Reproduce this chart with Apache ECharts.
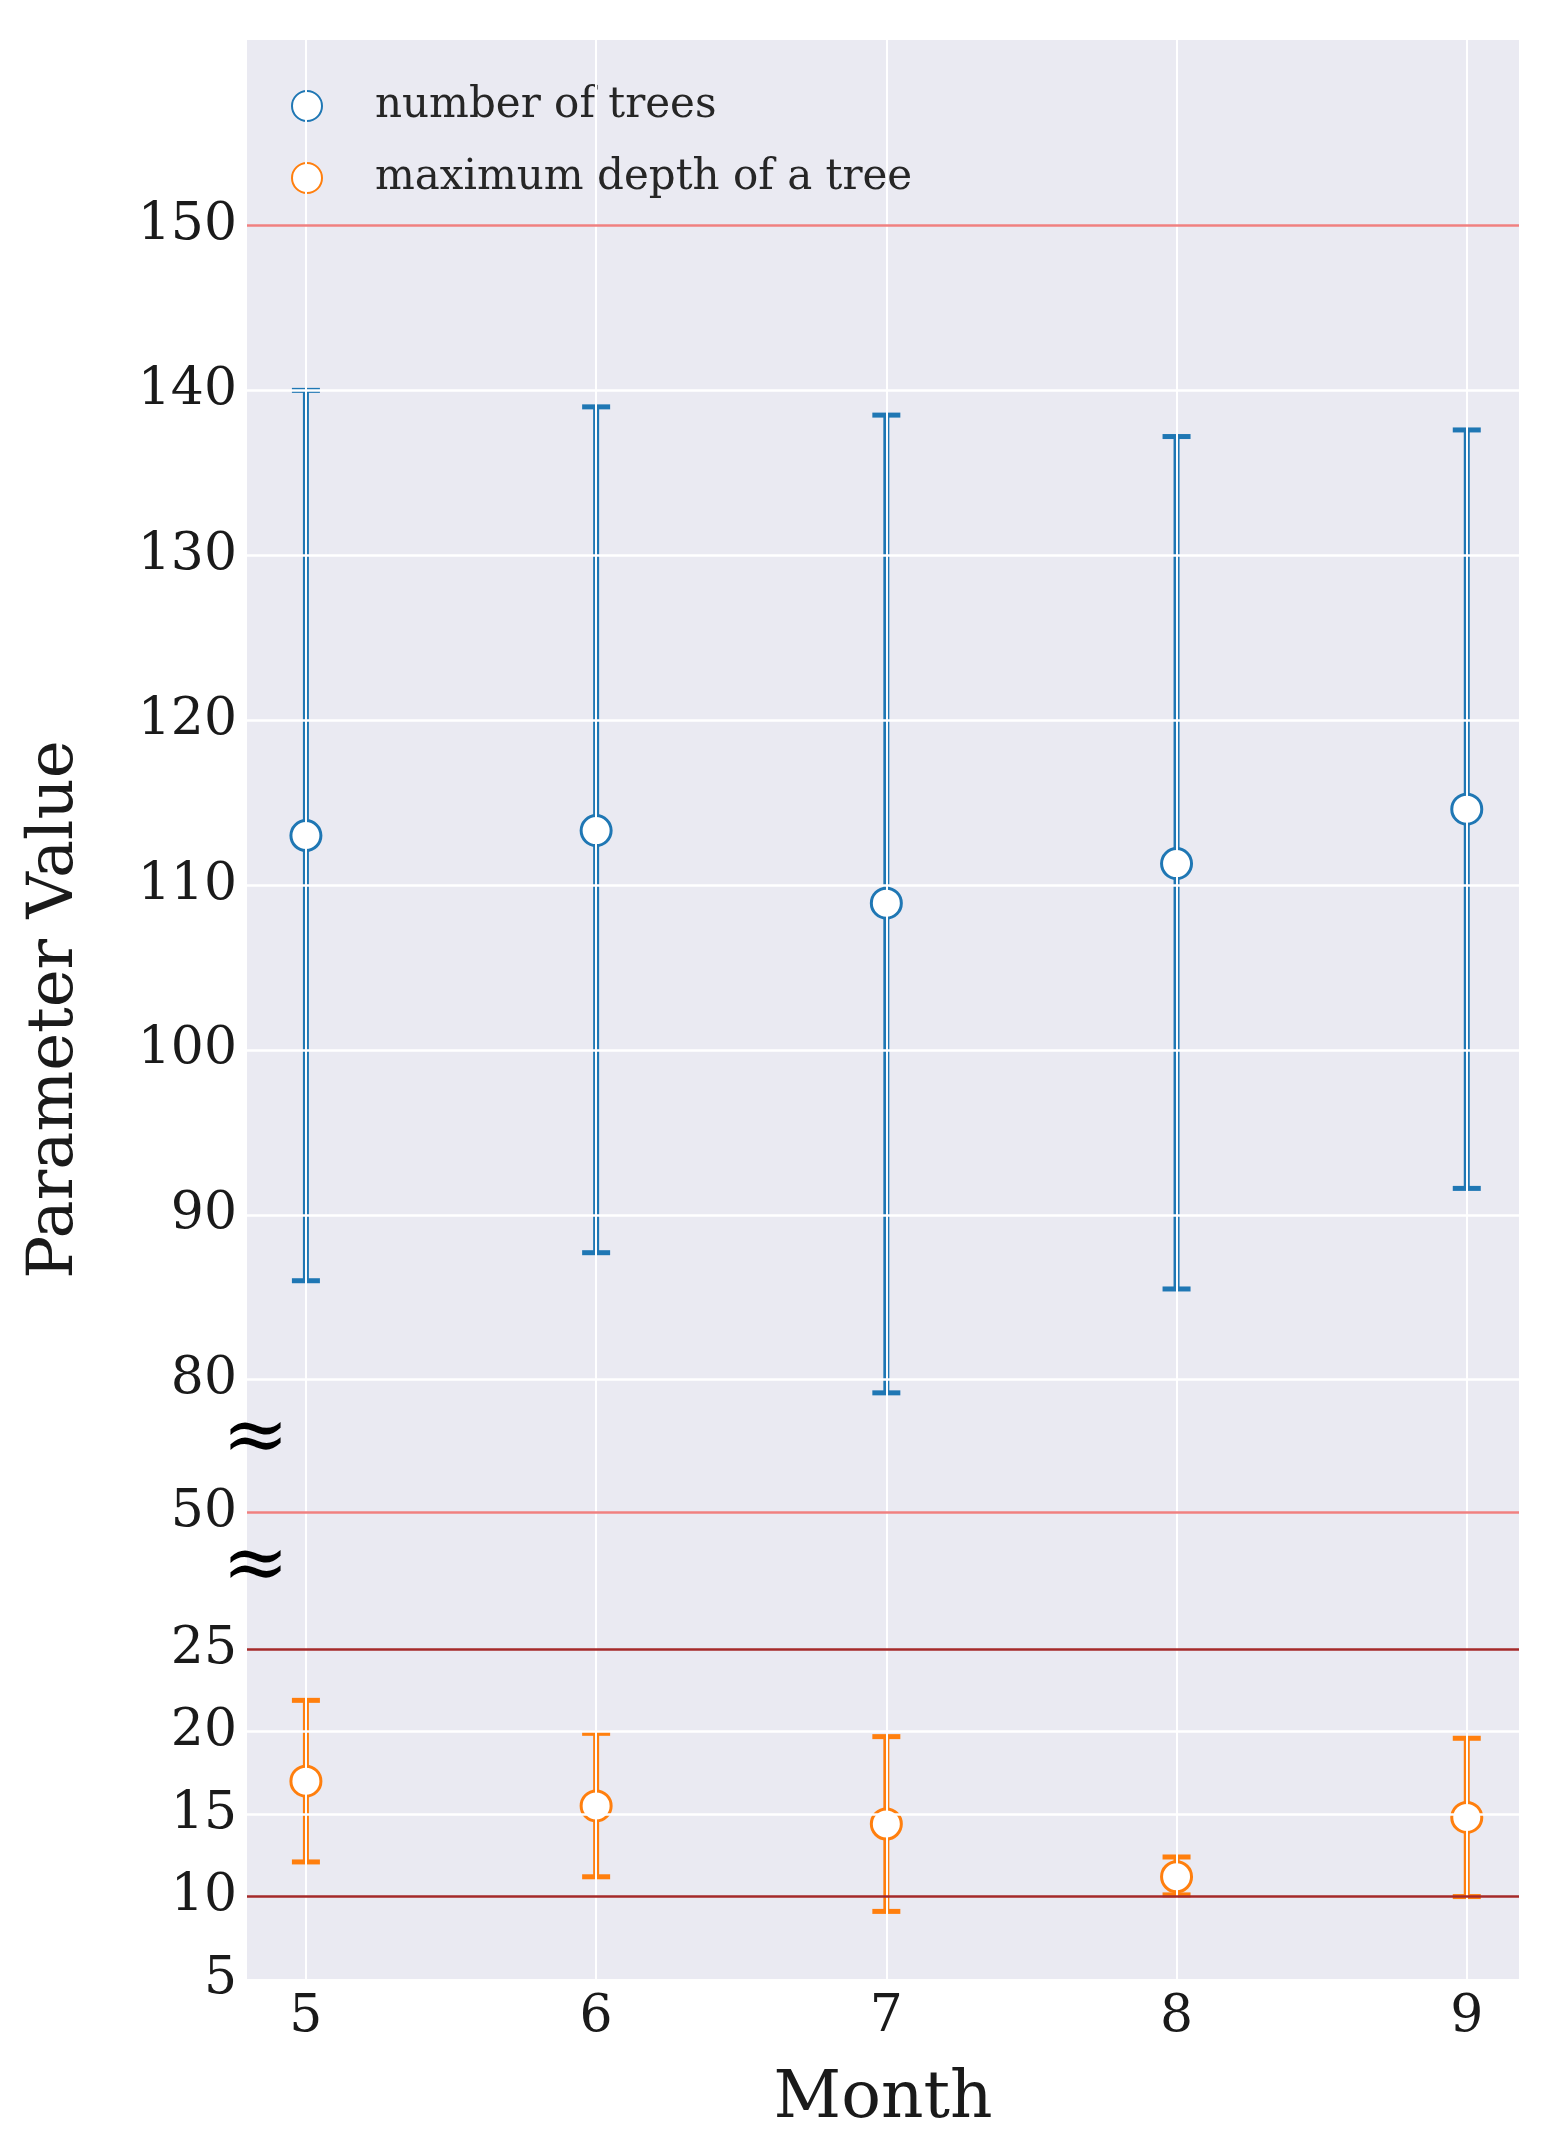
<!DOCTYPE html>
<html>
<head>
<meta charset="utf-8">
<script src="https://cdn.jsdelivr.net/npm/echarts@6/dist/echarts.min.js"></script>
<style>html,body{margin:0;background:#fff}#main{width:1557px;height:2155px}</style>
</head>
<body>
<div id="main"></div>
<script>
// data
const months = [5, 6, 7, 8, 9];
const treesMean = [113, 113.3, 108.9, 111.3, 114.6];
const treesLow = [86, 87.7, 79.2, 85.5, 91.6];
const treesHigh = [140, 139, 138.5, 137.2, 137.6];
const depthMean = [17, 15.5, 14.4, 11.2, 14.8];
const depthLow = [12.1, 11.2, 9.1, 10.1, 10];
const depthHigh = [21.9, 19.9, 19.7, 12.4, 19.6];
const upperTicks = [80, 90, 100, 110, 120, 130, 140, 150];
const lowerTicks = [5, 10, 15, 20, 25];
const midTicks = [50];

// broken axis: map real values to one continuous display axis
function d(v) {
  if (v >= 60) return v - 38.65;
  if (v > 25) return 33.3;
  return v;
}

const BLUE = '#1f77b4', ORANGE = '#ff7f0e';
const FONT = 'DejaVu Serif';

function lineColor(v) {
  if (v === 150 || v === 50) return '#f08080';
  if (v === 10 || v === 25) return '#a52a2a';
  return '#ffffff';
}

let yLines = [];
upperTicks.concat(midTicks, lowerTicks).forEach(v => {
  yLines.push({
    yAxis: d(v),
    lineStyle: {color: lineColor(v), width: v === 5 ? 0 : 2.5, type: 'solid'},
    label: {show: true, position: 'start', formatter: String(v), distance: 10,
      fontSize: 52, fontFamily: FONT, color: '#1a1a1a'}
  });
});
let xLines = months.map(m => ({
  xAxis: m,
  lineStyle: {color: '#ffffff', width: 2, type: 'solid'},
  label: {show: true, position: 'start', formatter: String(m), distance: 12,
    fontSize: 52, fontFamily: FONT, color: '#1a1a1a'}
}));

function errData(low, high) {
  return months.map((m, i) => [m, d(low[i]), d(high[i])]);
}

function renderErr(params, api) {
  const x = api.value(0);
  const lo = api.coord([x, api.value(1)]);
  const hi = api.coord([x, api.value(2)]);
  const c = api.visual('color');
  const cap = 14;
  return {type: 'group', children: [
    {type: 'rect', shape: {x: lo[0] - 3, y: hi[1], width: 6, height: lo[1] - hi[1]}, style: {fill: c}},
    {type: 'rect', shape: {x: lo[0] - cap, y: lo[1] - 2.5, width: cap * 2, height: 5}, style: {fill: c}},
    {type: 'rect', shape: {x: hi[0] - cap, y: hi[1] - 2.5, width: cap * 2, height: 5}, style: {fill: c}}
  ]};
}

const chart = echarts.init(document.getElementById('main'));
chart.setOption({
  animation: false,
  backgroundColor: '#ffffff',
  grid: {left: 247, right: 38, top: 40, bottom: 176, backgroundColor: '#eaeaf2', show: true, borderWidth: 0},
  legend: {
    left: 286, top: 80, orient: 'vertical', itemGap: 30, itemWidth: 30, itemHeight: 30,
    textStyle: {fontSize: 42, fontFamily: FONT, color: '#262626', padding: [0, 0, 0, 48]},
    data: [
      {name: 'number of trees', icon: 'emptyCircle'},
      {name: 'maximum depth of a tree', icon: 'emptyCircle'}
    ]
  },
  xAxis: {type: 'value', min: 4.797, max: 9.18, axisLabel: {show: false}, axisLine: {show: false},
    axisTick: {show: false}, splitLine: {show: false},
    name: 'Month', nameLocation: 'middle', nameGap: 88,
    nameTextStyle: {fontSize: 66, fontFamily: FONT, color: '#1a1a1a'}},
  yAxis: {type: 'value', min: 5, max: 122.6, axisLabel: {show: false}, axisLine: {show: false},
    axisTick: {show: false}, splitLine: {show: false},
    name: 'Parameter Value', nameLocation: 'middle', nameGap: 160,
    nameTextStyle: {fontSize: 64, fontFamily: FONT, color: '#1a1a1a'}},
  graphic: [
    {type: 'text', left: 222, top: 1400, style: {text: '≈', fontSize: 80, fontFamily: FONT, fill: '#000'}},
    {type: 'text', left: 222, top: 1528, style: {text: '≈', fontSize: 80, fontFamily: FONT, fill: '#000'}}
  ],
  series: [
    {type: 'line', data: [], silent: true, z: 1,
      markLine: {silent: true, symbol: 'none', animation: false, data: xLines.concat(yLines)}},
    {name: 'number of trees', type: 'custom', renderItem: renderErr, data: errData(treesLow, treesHigh),
      itemStyle: {color: BLUE}, z: 3},
    {name: 'maximum depth of a tree', type: 'custom', renderItem: renderErr, data: errData(depthLow, depthHigh),
      itemStyle: {color: ORANGE}, z: 3},
    {name: 'trees mean', type: 'scatter', symbolSize: 30, z: 4,
      itemStyle: {color: '#fff', borderColor: BLUE, borderWidth: 3, opacity: 1},
      data: months.map((m, i) => [m, d(treesMean[i])])},
    {name: 'depth mean', type: 'scatter', symbolSize: 30, z: 4,
      itemStyle: {color: '#fff', borderColor: ORANGE, borderWidth: 3, opacity: 1},
      data: months.map((m, i) => [m, d(depthMean[i])])}
  ]
});
</script>
</body>
</html>
